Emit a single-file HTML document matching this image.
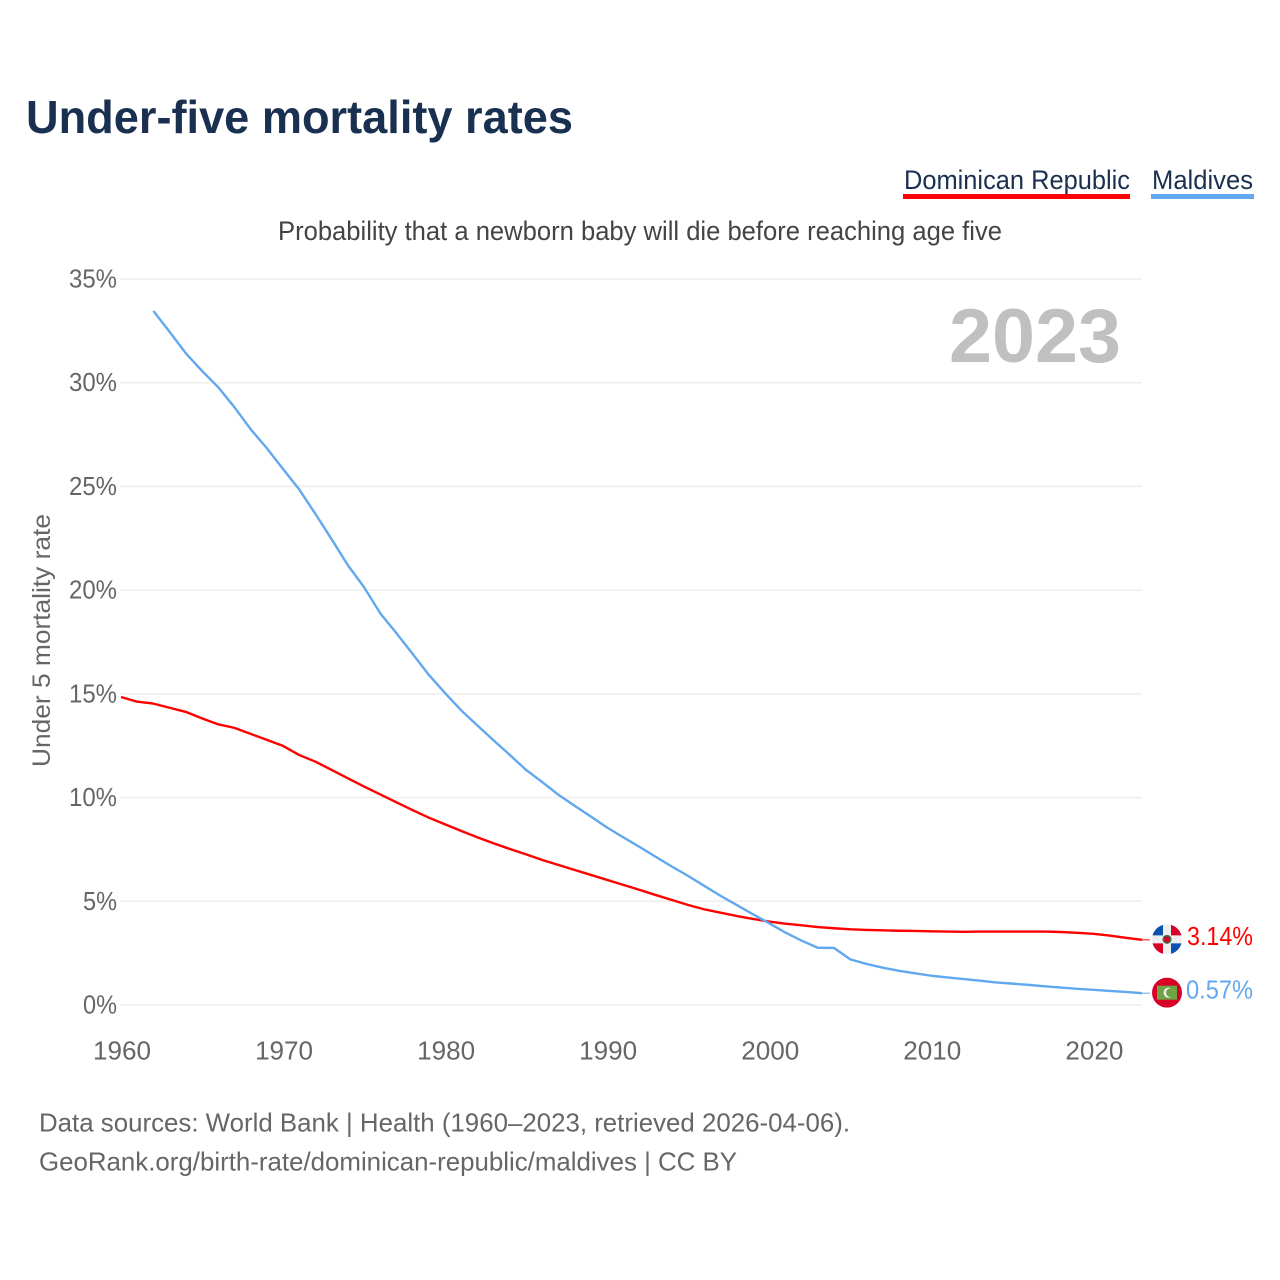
<!DOCTYPE html>
<html lang="en">
<head>
<meta charset="utf-8">
<title>Under-five mortality rates</title>
<style>
html,body{margin:0;padding:0;background:#fff;}
svg{display:block;font-family:"Liberation Sans",sans-serif;}
</style>
</head>
<body>
<svg id="chart" width="1280" height="1280" viewBox="0 0 1280 1280" xmlns="http://www.w3.org/2000/svg">
  <rect width="1280" height="1280" fill="#fff"/>
  <text x="26" y="133" font-size="46" font-weight="700" fill="#1a3050" textLength="547" lengthAdjust="spacingAndGlyphs">Under-five mortality rates</text>

  <g>
    <g>
      <text x="904" y="189" font-size="27" fill="#1a3050" textLength="226" lengthAdjust="spacingAndGlyphs">Dominican Republic</text>
      <rect x="903" y="194" width="227" height="5" fill="#ff0000"/>
    </g>
    <g>
      <text x="1152" y="189" font-size="27" fill="#1a3050" textLength="101" lengthAdjust="spacingAndGlyphs">Maldives</text>
      <rect x="1151" y="194" width="103" height="5" fill="#62a8ef"/>
    </g>
  </g>

  <text x="278" y="240" font-size="27" fill="#444" textLength="724" lengthAdjust="spacingAndGlyphs">Probability that a newborn baby will die before reaching age five</text>

  <g id="grid"></g>
  <g id="yticks"></g>
  <g id="xticks"></g>

  <text transform="translate(50,767) rotate(-90)" font-size="25" fill="#666" textLength="253" lengthAdjust="spacingAndGlyphs">Under 5 mortality rate</text>

  <text x="949" y="362" font-size="76" font-weight="700" fill="#c0c0c0" textLength="172" lengthAdjust="spacingAndGlyphs">2023</text>

  <g id="series"></g>

  <g id="flag-do">
    <defs>
      <clipPath id="clip-do"><circle id="clip-do-c" cx="0" cy="0" r="15"/></clipPath>
      <clipPath id="clip-mv"><circle id="clip-mv-c" cx="0" cy="0" r="15"/></clipPath>
    </defs>
    <g clip-path="url(#clip-do)">
      <rect x="-15" y="-15" width="30" height="30" fill="#eeeeee"/>
      <rect x="-15" y="-15" width="11" height="11" fill="#0a52b0"/>
      <rect x="4" y="-15" width="11" height="11" fill="#d80027"/>
      <rect x="-15" y="4" width="11" height="11" fill="#d80027"/>
      <rect x="4" y="4" width="11" height="11" fill="#0a52b0"/>
      <circle r="4.5" fill="#3d6b4a"/>
      <circle r="3" fill="#d80027"/>
    </g>
  </g>
  <g id="flag-mv">
    <g clip-path="url(#clip-mv)">
      <rect x="-15" y="-15" width="30" height="30" fill="#d80027"/>
      <rect x="-10" y="-7" width="20" height="14" fill="#6da544"/>
      <circle cx="1.5" cy="0" r="5" fill="#eee"/>
      <circle cx="3.5" cy="0" r="4.4" fill="#6da544"/>
    </g>
  </g>

  <text id="end-do" x="1187" y="945" font-size="26" fill="#ff0000" textLength="66" lengthAdjust="spacingAndGlyphs"></text>
  <text id="end-mv" x="1186" y="998.5" font-size="26" fill="#62a8ef" textLength="67" lengthAdjust="spacingAndGlyphs"></text>

  <text x="39" y="1131.5" font-size="26" fill="#666" textLength="811" lengthAdjust="spacingAndGlyphs">Data sources: World Bank | Health (1960–2023, retrieved 2026-04-06).</text>
  <text x="39" y="1170.5" font-size="26" fill="#666" textLength="698" lengthAdjust="spacingAndGlyphs">GeoRank.org/birth-rate/dominican-republic/maldives | CC BY</text>
</svg>
<script>
var yTickValues = [0, 5, 10, 15, 20, 25, 30, 35];
var xTickYears = [1960, 1970, 1980, 1990, 2000, 2010, 2020];
var firstYear = 1960;
var lastYear = 2023;
var dominicanValues = [14.85,14.62,14.53,14.33,14.13,13.82,13.53,13.36,13.07,12.78,12.49,12.05,11.73,11.33,10.93,10.53,10.15,9.77,9.39,9.03,8.71,8.39,8.08,7.79,7.52,7.26,6.99,6.75,6.51,6.27,6.03,5.79,5.55,5.30,5.06,4.82,4.61,4.45,4.29,4.15,4.02,3.92,3.84,3.76,3.70,3.65,3.62,3.60,3.58,3.57,3.55,3.54,3.53,3.54,3.54,3.54,3.54,3.54,3.52,3.48,3.43,3.35,3.24,3.14];
var maldivesValues = [null,null,33.46,32.45,31.42,30.57,29.78,28.82,27.76,26.84,25.84,24.85,23.67,22.45,21.2,20.14,18.88,17.92,16.92,15.91,15.03,14.2,13.47,12.75,12.05,11.33,10.74,10.13,9.6,9.08,8.55,8.08,7.62,7.14,6.67,6.22,5.74,5.26,4.82,4.37,3.94,3.49,3.10,2.76,2.75,2.20,1.98,1.80,1.65,1.53,1.41,1.33,1.25,1.17,1.09,1.03,0.97,0.90,0.84,0.78,0.73,0.68,0.63,0.57];

var NS = 'http://www.w3.org/2000/svg';
var plotLeft = 121, plotRight = 1142, plotBottom = 1005, plotTop = 279;
function xScale(year) {
  return plotLeft + (year - firstYear) * (plotRight - plotLeft) / (lastYear - firstYear);
}
function yScale(v) {
  return plotBottom - v * (plotBottom - plotTop) / 35;
}
function make(tag, attrs, parent) {
  var el = document.createElementNS(NS, tag);
  for (var k in attrs) el.setAttribute(k, attrs[k]);
  parent.appendChild(el);
  return el;
}
var grid = document.getElementById('grid');
var yticks = document.getElementById('yticks');
var xticks = document.getElementById('xticks');
var series = document.getElementById('series');

yTickValues.forEach(function (v) {
  var line = make('line', {x1: plotLeft - 1, x2: plotRight, y1: yScale(v), y2: yScale(v), stroke: '#eeeeee', 'stroke-width': 1.5}, grid);
  
  
  var s = v + '%';
  var t = make('text', {x: 117, y: yScale(v) + 8.5, 'font-size': 25.5, fill: '#666', 'text-anchor': 'end', textLength: v >= 10 ? 48 : 34, lengthAdjust: 'spacingAndGlyphs'}, yticks);
  
  
  t.textContent = s;
});

xTickYears.forEach(function (y) {
  var t = make('text', {x: xScale(y) + 1, y: 1059.5, 'font-size': 25.5, fill: '#666', 'text-anchor': 'middle', textLength: 58, lengthAdjust: 'spacingAndGlyphs'}, xticks);
  
  
  t.textContent = y;
});

function pathFor(values) {
  var d = '';
  values.forEach(function (v, i) {
    if (v === null) return;
    d += (d ? 'L' : 'M') + xScale(firstYear + i).toFixed(2) + ' ' + yScale(v).toFixed(2);
  });
  return d;
}

var doLine = make('path', {d: pathFor(dominicanValues), fill: 'none', stroke: '#ff0000', 'stroke-width': 2.4, 'stroke-linejoin': 'round'}, series);


var mvLine = make('path', {d: pathFor(maldivesValues), fill: 'none', stroke: '#62a8ef', 'stroke-width': 2.4, 'stroke-linejoin': 'round'}, series);



var doEnd = dominicanValues[dominicanValues.length - 1];
var mvEnd = maldivesValues[maldivesValues.length - 1];
var doLeader = make('line', {x1: plotRight, x2: plotRight + 8, y1: yScale(doEnd), y2: yScale(doEnd), stroke: '#ff0000', 'stroke-width': 1}, series);


var mvLeader = make('line', {x1: plotRight, x2: plotRight + 8, y1: yScale(mvEnd), y2: yScale(mvEnd), stroke: '#62a8ef', 'stroke-width': 1}, series);



document.getElementById('flag-do').setAttribute('transform', 'translate(1167,' + (yScale(doEnd) - 0.5) + ')');
document.getElementById('flag-mv').setAttribute('transform', 'translate(1167,' + (yScale(mvEnd) - 0.5) + ')');
document.getElementById('end-do').textContent = doEnd.toFixed(2) + '%';
document.getElementById('end-mv').textContent = mvEnd.toFixed(2) + '%';
</script>
</body>
</html>
